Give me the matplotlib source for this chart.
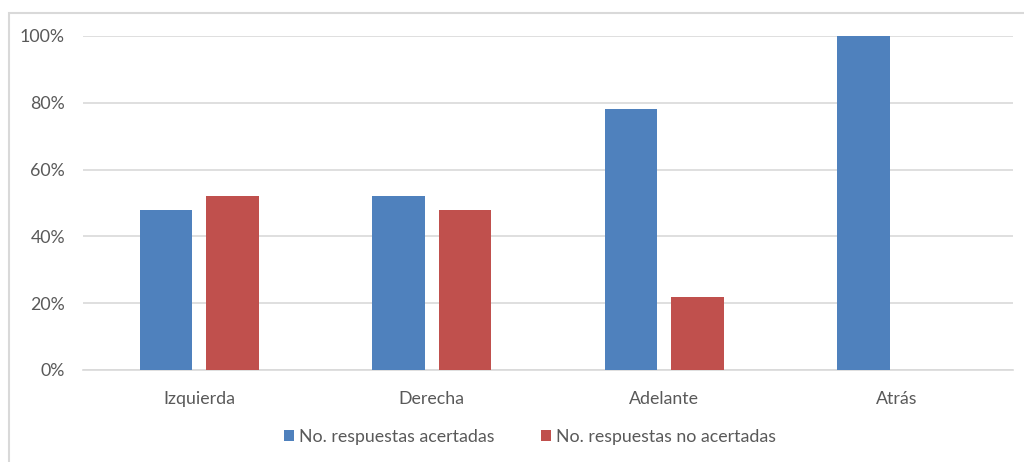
import matplotlib.pyplot as plt
import numpy as np
from matplotlib.patches import Rectangle
from matplotlib.ticker import PercentFormatter

categories = ['Izquierda', 'Derecha', 'Adelante', 'Atrás']
acertadas = [0.48, 0.52, 0.78, 1.00]
no_acertadas = [0.52, 0.48, 0.22, 0.00]

plt.rcParams['font.family'] = ['Lato', 'DejaVu Sans']
txt = '#595959'

fig = plt.figure(figsize=(10.24, 4.62), dpi=100)
ax = fig.add_axes([83 / 1024, 1 - 370 / 462, 930 / 1024, 334 / 462])

x = np.arange(len(categories))
w = 0.225
ax.bar(x - 0.143, acertadas, w, color='#4f81bd', label='No. respuestas acertadas', zorder=3)
ax.bar(x + 0.143, no_acertadas, w, color='#c0504d', label='No. respuestas no acertadas', zorder=3)

ax.set_xlim(-0.5, len(categories) - 0.5)
ax.set_ylim(0, 1)
ax.set_yticks(np.arange(0, 1.01, 0.2))
ax.yaxis.set_major_formatter(PercentFormatter(1.0, decimals=0))
ax.set_xticks(x)
ax.set_xticklabels(categories)
ax.tick_params(length=0, labelsize=12.8, colors=txt)
ax.tick_params(axis='y', pad=13)
ax.tick_params(axis='x', pad=15)
ax.grid(axis='y', color='#d9d9d9', linewidth=1.2, zorder=0)
for s in ['top', 'right', 'left']:
    ax.spines[s].set_visible(False)
ax.spines['bottom'].set_color('#d9d9d9')
ax.spines['bottom'].set_linewidth(1.2)

fig.legend(loc='center', bbox_to_anchor=(530 / 1024, 1 - 437 / 462), ncol=2,
           frameon=False, fontsize=12.8, labelcolor=txt, handlelength=0.55,
           handleheight=0.55, handletextpad=0.3, columnspacing=2.6)

# chart border (only left and top visible in the crop)
fig.patches.append(Rectangle((9 / 1024, -0.1), 1.2, 1 - 13 / 462 + 0.1,
                             transform=fig.transFigure, fill=False,
                             edgecolor='#d9d9d9', linewidth=1.5))

fig.savefig('out.png', dpi=100)
